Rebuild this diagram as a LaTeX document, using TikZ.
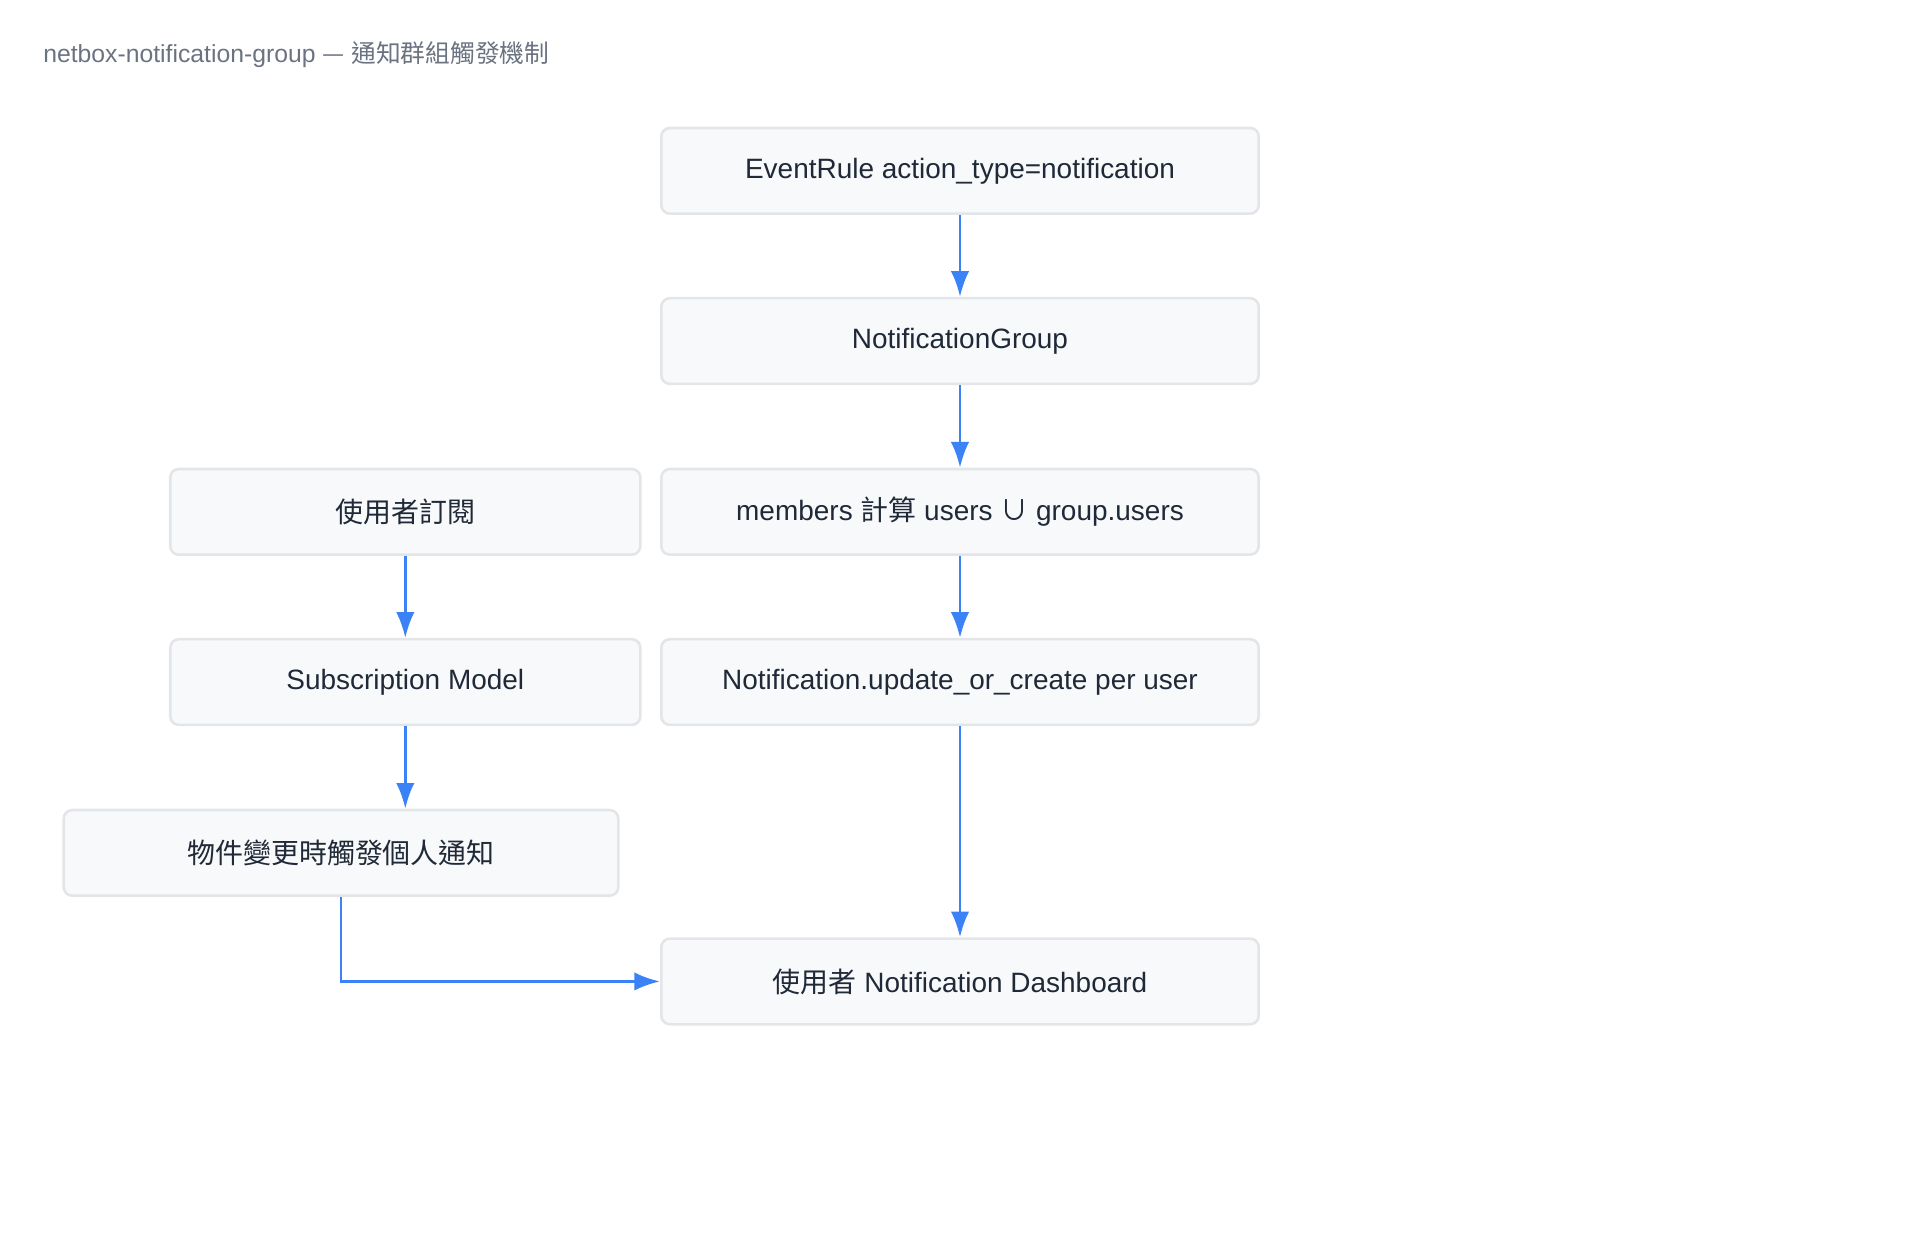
\documentclass[tikz,border=0pt]{standalone}
\usepackage{fontspec}
\setmainfont{Liberation Sans}
\newfontfamily\cjk{Noto Sans CJK TC}
\usetikzlibrary{arrows.meta,positioning}
\definecolor{boxfill}{HTML}{F8F9FB}
\definecolor{boxline}{HTML}{E3E5E9}
\definecolor{flow}{HTML}{3B82F6}
\definecolor{titlegray}{HTML}{6B7280}
\definecolor{ink}{HTML}{1F2937}

\begin{document}
\begin{tikzpicture}[x=0.02cm,y=-0.02cm,
        stage/.style={draw=boxline,line width=1.2pt,fill=boxfill,rounded corners=4pt,
            minimum height=1.4cm,text=ink,font=\fontsize{13}{15}\selectfont},
        wide/.style={stage,minimum width=9.76cm},
        side/.style={stage,minimum width=7.68cm},
        flowarrow/.style={-{Latex[length=0.42cm,width=0.3cm]},flow,line width=1.3pt}
    ]
    \useasboundingbox (0,0) rectangle (1568,1011);

    % --- Title ---
    \node[anchor=west,inner sep=0pt,text=titlegray,font=\fontsize{11.5}{13}\selectfont] (title) at (35,45)
        {netbox-notification-group {\cjk —} {\cjk 通知群組觸發機制}};

    % --- Group path ---
    \node[wide] (rule) at (784,139.5) {EventRule action\_type=notification};
    \node[wide] (group) at (784,278.5) {NotificationGroup};
    \node[wide] (members) at (784,418) {members {\cjk 計算} users {\cjk ∪} group.users};
    \node[wide] (create) at (784,557) {Notification.update\_or\_create per user};
    \node[wide] (dash) at (784,801.5) {{\cjk 使用者} Notification Dashboard};

    % --- Subscription path ---
    \node[side] (sub) at (331,418) {\cjk 使用者訂閱};
    \node[side] (model) at (331,557) {Subscription Model};
    \node[stage,minimum width=9.06cm] (personal) at (278.5,696.5) {\cjk 物件變更時觸發個人通知};

    % --- Connectors ---
    \draw[flowarrow] (rule) -- (group);
    \draw[flowarrow] (group) -- (members);
    \draw[flowarrow] (members) -- (create);
    \draw[flowarrow] (create) -- (dash);
    \draw[flowarrow] (sub) -- (model);
    \draw[flowarrow] (model.south) -- (model.south |- personal.north);
    \draw[flowarrow] (personal.south) |- (dash.west);

\end{tikzpicture}
\end{document}
